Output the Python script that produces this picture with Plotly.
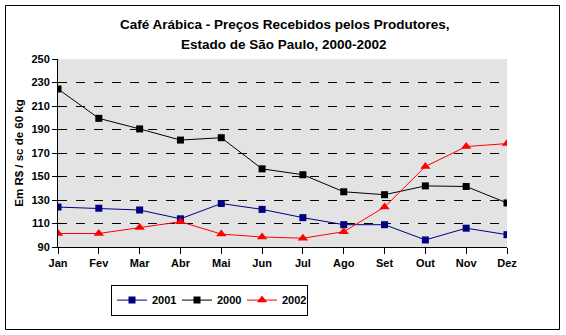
import plotly.graph_objects as go

months = ["Jan", "Fev", "Mar", "Abr", "Mai", "Jun", "Jul", "Ago", "Set", "Out", "Nov", "Dez"]
y2001 = [124, 123, 121.5, 114, 127, 122, 115, 109, 109, 96, 106, 100.5]
y2000 = [224.5, 199.5, 190.5, 181, 183, 156.5, 151.5, 137, 134.5, 142, 141.5, 127.5]
y2002 = [101.5, 101.5, 106.5, 111.5, 101, 98.5, 97.5, 103, 124, 158.5, 175.5, 178]
yticks = [90, 110, 130, 150, 170, 190, 210, 230, 250]

xs = list(range(len(months)))
FONT = "Liberation Sans, Arial, sans-serif"

fig = go.Figure()
fig.add_trace(go.Scatter(x=xs, y=y2001, name="2001", mode="lines+markers",
                         line=dict(color="#000080", width=1),
                         marker=dict(symbol="square", size=7, color="#000080")))
fig.add_trace(go.Scatter(x=xs, y=y2000, name="2000", mode="lines+markers",
                         line=dict(color="#000000", width=1),
                         marker=dict(symbol="square", size=7, color="#000000")))
fig.add_trace(go.Scatter(x=xs, y=y2002, name="2002", mode="lines+markers",
                         line=dict(color="#ff0000", width=1),
                         marker=dict(symbol="triangle-up", size=9, color="#ff0000")))

fig.update_layout(
    width=566, height=335,
    margin=dict(l=58, r=59, t=59, b=88),
    paper_bgcolor="white",
    plot_bgcolor="#e3e3e3",
    font=dict(family=FONT, size=11, color="black"),
    showlegend=True,
    legend=dict(orientation="h", x=(111 - 58) / 449, y=-0.2, xanchor="left", yanchor="top",
                bordercolor="black", borderwidth=1, bgcolor="white",
                font=dict(family=FONT, size=11, color="black", weight="bold"),
                itemwidth=30, tracegroupgap=0, entrywidth=20, entrywidthmode="pixels"),
    annotations=[
        dict(text="<b>Café Arábica - Preços Recebidos pelos Produtores,</b>",
             xref="paper", yref="paper", x=(284.5 - 58) / 449, y=(247 - 15) / 188,
             xanchor="center", yanchor="top", showarrow=False,
             font=dict(family=FONT, size=13.5, color="black")),
        dict(text="<b>Estado de São Paulo, 2000-2002</b>",
             xref="paper", yref="paper", x=(283.5 - 58) / 449, y=(247 - 34.5) / 188,
             xanchor="center", yanchor="top", showarrow=False,
             font=dict(family=FONT, size=13.5, color="black")),
    ],
    shapes=[
        dict(type="rect", xref="paper", yref="paper",
             x0=(5.5 - 58) / 449, x1=(559.5 - 58) / 449,
             y0=(247 - 329.5) / 188, y1=(247 - 5.5) / 188,
             line=dict(color="black", width=1), fillcolor="rgba(0,0,0,0)", layer="below"),
    ],
)

fig.update_xaxes(range=[0, 11], tickvals=xs, ticktext=months, showgrid=False,
                 zeroline=False, showline=True, linecolor="black", linewidth=1,
                 ticks="outside", ticklen=6, tickcolor="black",
                 tickfont=dict(family=FONT, size=11, weight="bold"))
fig.update_yaxes(range=[90, 250], tickvals=yticks, showgrid=True,
                 gridcolor="black", griddash="dash", gridwidth=1,
                 zeroline=False, showline=True, linecolor="black", linewidth=1,
                 ticks="outside", ticklen=5, tickcolor="black",
                 tickfont=dict(family=FONT, size=11, weight="bold"),
                 title=dict(text="Em R$ / sc de 60 kg", standoff=5,
                            font=dict(family=FONT, size=11.5, weight="bold")))

fig.write_html("out.html")
